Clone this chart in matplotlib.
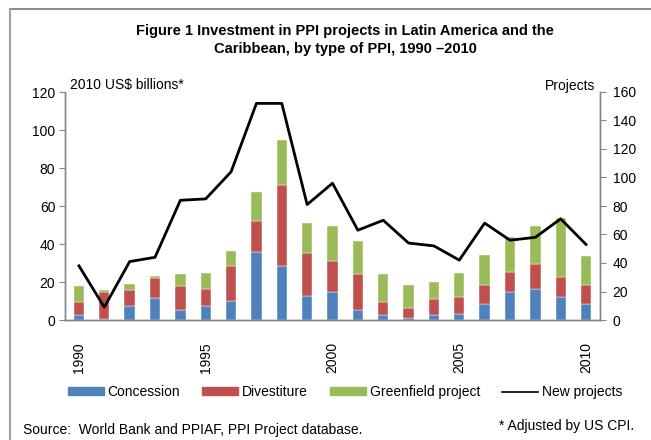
import numpy as np
import matplotlib.pyplot as plt
from matplotlib.lines import Line2D

plt.rcParams['font.family'] = ['Liberation Sans', 'DejaVu Sans']

# Data (2010 US$ billions, projects count)
years = list(range(1990, 2011))
concession = [2.8, 0.5, 7.3, 11.7, 5.4, 7.3, 9.8, 35.7, 28.3, 12.4, 14.5,
              5.2, 2.6, 1.2, 2.6, 3.3, 8.2, 14.5, 16.4, 12.2, 8.2]
divestiture = [6.8, 14.0, 8.3, 10.3, 12.4, 9.1, 18.4, 16.6, 42.9, 23.1, 16.8,
               18.8, 6.8, 5.3, 8.2, 8.9, 10.2, 10.9, 13.0, 10.2, 10.3]
greenfield = [8.2, 1.4, 3.6, 1.3, 6.3, 8.4, 8.2, 15.1, 23.6, 15.4, 18.0,
              17.8, 14.7, 12.0, 9.1, 12.5, 15.9, 18.1, 19.9, 31.5, 15.3]
new_projects = [38, 9, 41, 44, 84, 85, 104, 152, 152, 81, 96,
                63, 70, 54, 52, 42, 68, 56, 58, 71, 53]
tick_years = ['1990', '1995', '2000', '2005', '2010']

c_blue = '#4F81BD'
c_red = '#C0504D'
c_green = '#9BBB59'
gray = '#868686'

fig = plt.figure(figsize=(6.51, 4.40), dpi=100)
ax = fig.add_axes([65 / 651, 1 - 320 / 440, 535 / 651, 228 / 440])
ax2 = ax.twinx()

x = np.arange(len(years))
w = 0.41
ax.bar(x, concession, w, color=c_blue, edgecolor='white', linewidth=0.3, zorder=2)
ax.bar(x, divestiture, w, bottom=concession, color=c_red, edgecolor='white',
       linewidth=0.3, zorder=2)
bottom2 = np.array(concession) + np.array(divestiture)
ax.bar(x, greenfield, w, bottom=bottom2, color=c_green, edgecolor='white',
       linewidth=0.3, zorder=2)

ax2.plot(x, new_projects, color='black', linewidth=2.0)

ax.set_xlim(-0.55, len(years) - 0.45)
ax.set_ylim(0, 120)
ax2.set_ylim(0, 160)
ax.set_yticks(range(0, 121, 20))
ax2.set_yticks(range(0, 161, 20))

ax.set_xticks([years.index(int(t)) for t in tick_years])
ax.set_xticklabels(tick_years, rotation=90, fontsize=10)
ax.tick_params(axis='x', length=0, pad=16)
ax.tick_params(axis='y', direction='out', length=4, color=gray, labelsize=10, pad=3)
ax2.tick_params(axis='y', direction='out', length=4, color=gray, labelsize=10, pad=5)

for a in (ax, ax2):
    a.spines['top'].set_visible(False)
    for s in ('left', 'right', 'bottom'):
        a.spines[s].set_color(gray)
        a.spines[s].set_linewidth(1.0)

fig.text(70 / 651, 1 - 85 / 440, '2010 US$ billions*', fontsize=10, va='center', ha='left')
fig.text(595 / 651, 1 - 86 / 440, 'Projects', fontsize=10, va='center', ha='right')

fig.text(345 / 651, 1 - 40 / 440,
         'Figure 1 Investment in PPI projects in Latin America and the\n'
         'Caribbean, by type of PPI, 1990 \u20132010',
         fontsize=10.5, fontweight='bold', ha='center', va='center', linespacing=1.3)

handles = [plt.Rectangle((0, 0), 1, 1, color=c_blue),
           plt.Rectangle((0, 0), 1, 1, color=c_red),
           plt.Rectangle((0, 0), 1, 1, color=c_green),
           Line2D([0], [0], color='black', linewidth=1.2)]
fig.legend(handles, ['Concession', 'Divestiture', 'Greenfield project', 'New projects'],
           loc='center', bbox_to_anchor=(345 / 651, 1 - 392 / 440), ncol=4,
           frameon=False, fontsize=10, handlelength=2.6, handleheight=0.5,
           handletextpad=0.25, columnspacing=1.6)

fig.text(23 / 651, 1 - 430 / 440, 'Source:  World Bank and PPIAF, PPI Project database.',
         fontsize=10, va='center', ha='left')
fig.text(634 / 651, 1 - 426 / 440, '* Adjusted by US CPI.', fontsize=10,
         va='center', ha='right')

# frame lines at top and left of the figure
fig.add_artist(Line2D([9.5 / 651, 1], [1 - 9.5 / 440, 1 - 9.5 / 440], color='#8c8c8c',
                      linewidth=1.5, transform=fig.transFigure))
fig.add_artist(Line2D([9.5 / 651, 9.5 / 651], [0, 1 - 9.5 / 440], color='#a0a0a0',
                      linewidth=1.5, transform=fig.transFigure))

fig.savefig('out.png', dpi=100)
